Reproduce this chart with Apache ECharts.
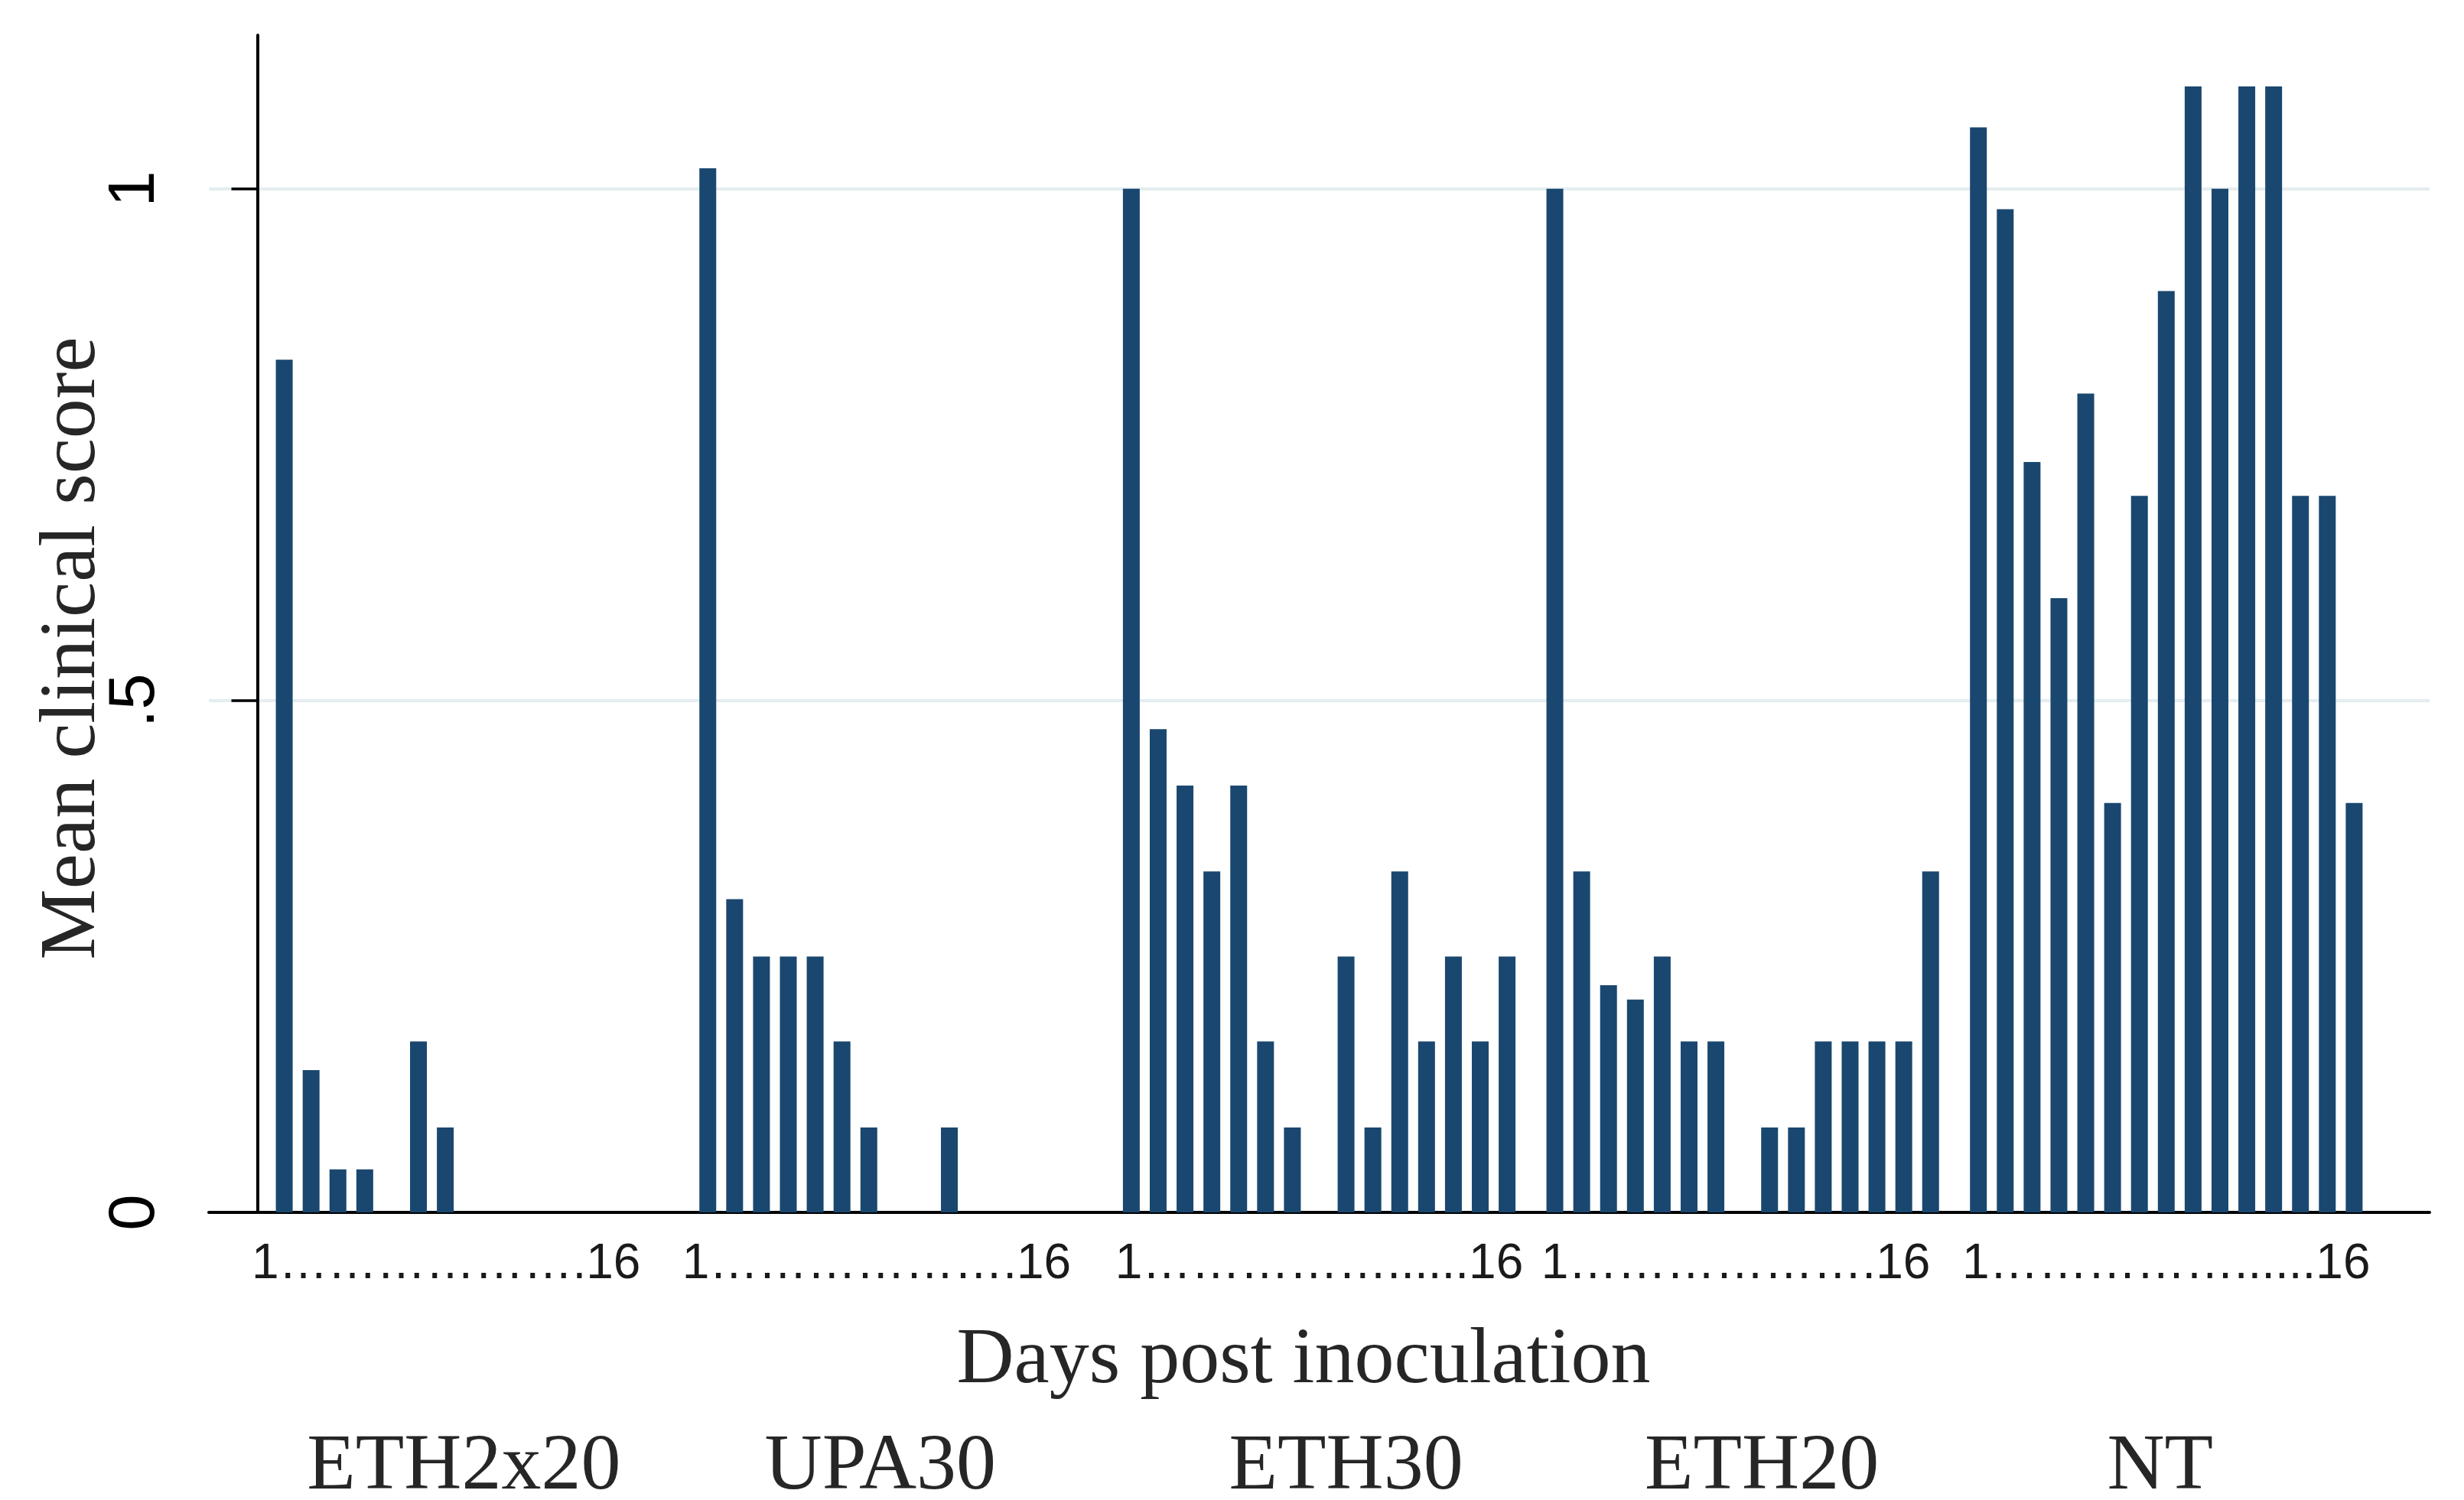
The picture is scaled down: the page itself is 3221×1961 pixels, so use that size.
<!DOCTYPE html>
<html>
<head>
<meta charset="utf-8">
<script src="https://cdn.jsdelivr.net/npm/echarts@6/dist/echarts.min.js"></script>
<style>
  html, body { margin: 0; padding: 0; background: #ffffff; }
  #chart { width: 3221px; height: 1961px; }
</style>
</head>
<body>
<div id="chart"></div>
<script>
// ---------------- DATA ----------------
const groups = ['ETH2x20', 'UPA30', 'ETH30', 'ETH20', 'NT'];
const days = [1, 2, 3, 4, 5, 6, 7, 8, 9, 10, 11, 12, 13, 14, 15];
const eth2x20 = [0.833, 0.139, 0.042, 0.042, 0, 0.167, 0.083, 0, 0, 0, 0, 0, 0, 0, 0];
const upa30   = [1.02, 0.306, 0.25, 0.25, 0.25, 0.167, 0.083, 0, 0, 0.083, 0, 0, 0, 0, 0];
const eth30   = [1.0, 0.472, 0.417, 0.333, 0.417, 0.167, 0.083, 0, 0.25, 0.083, 0.333, 0.167, 0.25, 0.167, 0.25];
const eth20   = [1.0, 0.333, 0.222, 0.208, 0.25, 0.167, 0.167, 0, 0.083, 0.083, 0.167, 0.167, 0.167, 0.167, 0.333];
const nt      = [1.06, 0.98, 0.733, 0.6, 0.8, 0.4, 0.7, 0.9, 1.1, 1.0, 1.1, 1.1, 0.7, 0.7, 0.4];
const dayRangeLabels = [
  '1\u2026\u2026\u2026\u2026\u2026\u2026.16',
  '1\u2026\u2026\u2026\u2026\u2026\u2026.16',
  '1\u2026\u2026\u2026\u2026\u2026......16',
  '1\u2026\u2026\u2026\u2026\u2026\u2026.16',
  '1\u2026\u2026\u2026\u2026\u2026......16'
];
const yTickValues = [0, 0.5, 1];
const yTickLabels = ['0', '.5', '1'];
const xTitle = 'Days post inoculation';
const yTitle = 'Mean clinical score';

// ---------------- LAYOUT / STYLE ----------------
const GROUP_STEP = 15.78;      // slot distance between first days of consecutive groups
const EDGE = 2.81;             // empty space before first / after last bar (in day slots)
const rangeLabelShift = [-0.97, -0.71, 0, -0.26, 0];
const groupNameShift = [-0.31, -0.57, 1.0, 0.71, -0.23];
const serif = "'Liberation Serif', 'Times New Roman', serif";
const sans = "'Liberation Sans', Arial, sans-serif";
const barColor = '#1a476f';
const textColor = '#262626';

const allValues = [eth2x20, upa30, eth30, eth20, nt];
const seriesData = [];
groups.forEach((g, gi) => {
  allValues[gi].forEach((v, di) => {
    seriesData.push([gi * GROUP_STEP + days[di], v]);
  });
});
const groupCenter = gi => gi * GROUP_STEP + (days[0] + days[days.length - 1]) / 2;
const xMin = days[0] - EDGE;
const xMax = (groups.length - 1) * GROUP_STEP + days[days.length - 1] + EDGE;

const rangeAnchors = groups.map((g, gi) => groupCenter(gi) + rangeLabelShift[gi]);
const nameAnchors = groups.map((g, gi) => groupCenter(gi) + groupNameShift[gi]);
function nearestIndex(anchors, v) {
  let best = 0, bd = Infinity;
  anchors.forEach((a, i) => { const d = Math.abs(a - v); if (d < bd) { bd = d; best = i; } });
  return best;
}

const chart = echarts.init(document.getElementById('chart'), null, { renderer: 'canvas' });
chart.setOption({
  backgroundColor: '#ffffff',
  animation: false,
  grid: { left: 273, right: 45, top: 46, bottom: 376, containLabel: false, outerBoundsMode: 'none' },
  xAxis: [
    {
      type: 'value',
      min: xMin,
      max: xMax,
      position: 'bottom',
      axisLine: { show: true, onZero: false, lineStyle: { color: '#000000', width: 4 } },
      axisTick: { show: false, customValues: rangeAnchors },
      splitLine: { show: false },
      axisLabel: {
        show: true,
        customValues: rangeAnchors,
        showMinLabel: true,
        showMaxLabel: true,
        hideOverlap: false,
        formatter: v => dayRangeLabels[nearestIndex(rangeAnchors, v)],
        fontFamily: sans,
        fontSize: 64,
        color: '#1a1a1a',
        margin: 36
      },
      name: xTitle,
      nameLocation: 'middle',
      nameGap: 143,
      nameMoveOverlap: false,
      nameTextStyle: { fontFamily: serif, fontSize: 104, color: textColor, padding: [0, 41, 0, 0] }
    },
    {
      type: 'value',
      min: xMin,
      max: xMax,
      position: 'bottom',
      offset: 273,
      axisLine: { show: false },
      axisTick: { show: false, customValues: nameAnchors },
      splitLine: { show: false },
      axisLabel: {
        show: true,
        customValues: nameAnchors,
        showMinLabel: true,
        showMaxLabel: true,
        hideOverlap: false,
        formatter: v => groups[nearestIndex(nameAnchors, v)],
        fontFamily: serif,
        fontSize: 104,
        color: textColor,
        margin: 9
      }
    }
  ],
  yAxis: {
    type: 'value',
    min: 0,
    max: 1.15,
    axisLine: { show: true, lineStyle: { color: '#000000', width: 4 } },
    axisTick: { show: true, customValues: yTickValues, length: 34, lineStyle: { color: '#000000', width: 3.5 } },
    splitLine: { show: true, lineStyle: { color: '#e4edf0', width: 4 } },
    axisLabel: {
      customValues: yTickValues,
      formatter: v => yTickLabels[nearestIndex(yTickValues, v)],
      rotate: 90,
      fontFamily: sans,
      fontSize: 85,
      color: '#000000',
      margin: 53
    },
    name: yTitle,
    nameLocation: 'middle',
    nameGap: 125,
    nameMoveOverlap: false,
    nameTextStyle: { fontFamily: serif, fontSize: 104, color: textColor, padding: [0, 64, 0, 0] }
  },
  series: [
    {
      type: 'bar',
      xAxisIndex: 0,
      data: seriesData,
      barWidth: 22,
      itemStyle: { color: barColor },
      silent: true
    }
  ]
});
</script>
</body>
</html>
